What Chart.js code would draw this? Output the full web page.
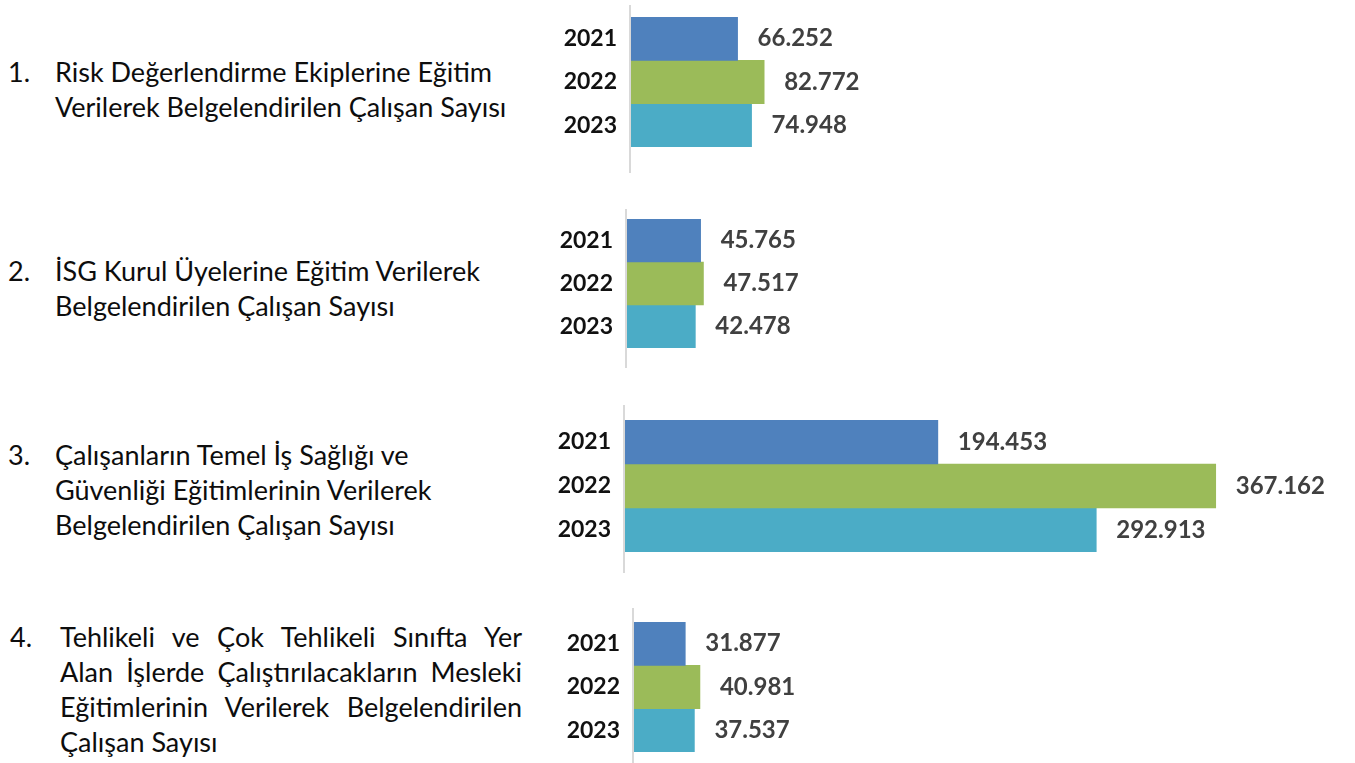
<!DOCTYPE html>
<html lang="tr">
<head>
<meta charset="utf-8">
<script src="https://cdn.jsdelivr.net/npm/chart.js@4/dist/chart.umd.min.js"></script>
<style>
  html, body { margin: 0; padding: 0; background: #fff; }
  body { width: 1355px; height: 763px; position: relative; overflow: hidden; font-family: Lato, 'Open Sans', sans-serif; color: #0d0d0d; }
  .item { position: absolute; font-size: 27px; line-height: 35px; }
  .item .num { position: absolute; left: 0; top: 0; }
  .item .txt { position: absolute; top: 0; white-space: nowrap; }
  .just div { text-align: justify; text-align-last: justify; white-space: nowrap; }
  .just div.last { text-align-last: left; }
  canvas { position: absolute; }
</style>
</head>
<body>

<div class="item" style="left:8px; top:54px;">
  <span class="num">1.</span>
  <div class="txt" style="left:47px;">Risk Değerlendirme Ekiplerine Eğitim<br>Verilerek Belgelendirilen Çalışan Sayısı</div>
</div>
<div class="item" style="left:8px; top:253px;">
  <span class="num">2.</span>
  <div class="txt" style="left:47px;">İSG Kurul Üyelerine Eğitim Verilerek<br>Belgelendirilen Çalışan Sayısı</div>
</div>
<div class="item" style="left:8px; top:437px;">
  <span class="num">3.</span>
  <div class="txt" style="left:47px;">Çalışanların Temel İş Sağlığı ve<br>Güvenliği Eğitimlerinin Verilerek<br>Belgelendirilen Çalışan Sayısı</div>
</div>
<div class="item just" style="left:10px; top:619px;">
  <span class="num">4.</span>
  <div class="txt" style="left:50px; width:462px; white-space:normal;">
    <div>Tehlikeli ve Çok Tehlikeli Sınıfta Yer</div>
    <div>Alan İşlerde Çalıştırılacakların Mesleki</div>
    <div>Eğitimlerinin Verilerek Belgelendirilen</div>
    <div class="last">Çalışan Sayısı</div>
  </div>
</div>

<canvas id="c1"></canvas>
<canvas id="c2"></canvas>
<canvas id="c3"></canvas>
<canvas id="c4"></canvas>

<script>
const yillar = ['2021', '2022', '2023']

const riskEkipleri = [66252, 82772, 74948]
const isgKurul = [45765, 47517, 42478]
const temelIsg = [194453, 367162, 292913]
const meslekiEgitim = [31877, 40981, 37537]

const renkler = ['#4f81bd', '#9bbb59', '#4bacc6']

// nokta ile binlik ayırma (tr)
function formatla(v) {
    return String(v).replace(/\B(?=(\d{3})+(?!\d))/g, '.')
}

const etiketler = {
    id: 'etiketler',
    beforeDatasetsDraw(chart) {
        const ctx = chart.ctx
        const a = chart.chartArea
        ctx.save()
        ctx.strokeStyle = '#d9d9d9'
        ctx.lineWidth = 2
        ctx.beginPath()
        ctx.moveTo(a.left - 1, 0)
        ctx.lineTo(a.left - 1, chart.height)
        ctx.stroke()
        ctx.restore()
    },
    afterDatasetsDraw(chart) {
        const ctx = chart.ctx
        const a = chart.chartArea
        ctx.save()
        ctx.textBaseline = 'middle'
        chart.data.datasets.forEach((ds, i) => {
            const bar = chart.getDatasetMeta(i).data[0]
            ctx.font = 'bold 23px Lato'
            ctx.fillStyle = '#111'
            ctx.textAlign = 'right'
            ctx.fillText(ds.label, a.left - 14, bar.y)
            ctx.font = 'bold 24px Lato'
            ctx.fillStyle = '#404040'
            ctx.textAlign = 'left'
            ctx.fillText(formatla(ds.data[0]), bar.x + 20, bar.y)
        })
        ctx.restore()
    }
}

function grafik(id, degerler, eksenX, ustCizgi, altCizgi, barUst, barAlt) {
    const canvas = document.getElementById(id)
    canvas.width = 815
    canvas.height = altCizgi - ustCizgi
    canvas.style.left = (eksenX - 91) + 'px'
    canvas.style.top = ustCizgi + 'px'

    new Chart(canvas, {
        type: 'bar',
        data: {
            labels: [''],
            datasets: yillar.map((y, i) => ({
                label: y,
                data: [degerler[i]],
                backgroundColor: renkler[i],
                borderWidth: 0,
                categoryPercentage: 1,
                barPercentage: 1
            }))
        },
        options: {
            indexAxis: 'y',
            responsive: false,
            animation: false,
            layout: {
                padding: { left: 91, right: 0, top: barUst - ustCizgi, bottom: altCizgi - barAlt }
            },
            plugins: {
                legend: { display: false },
                tooltip: { enabled: false }
            },
            scales: {
                x: { display: false, min: 0, max: 450000 },
                y: { display: false }
            }
        },
        plugins: [etiketler]
    })
}

grafik('c1', riskEkipleri, 631, 5, 173, 17, 147)
grafik('c2', isgKurul, 627, 209, 368, 219, 348)
grafik('c3', temelIsg, 625, 405, 573, 420, 552)
grafik('c4', meslekiEgitim, 634, 608, 763, 622, 752)
</script>
</body>
</html>
